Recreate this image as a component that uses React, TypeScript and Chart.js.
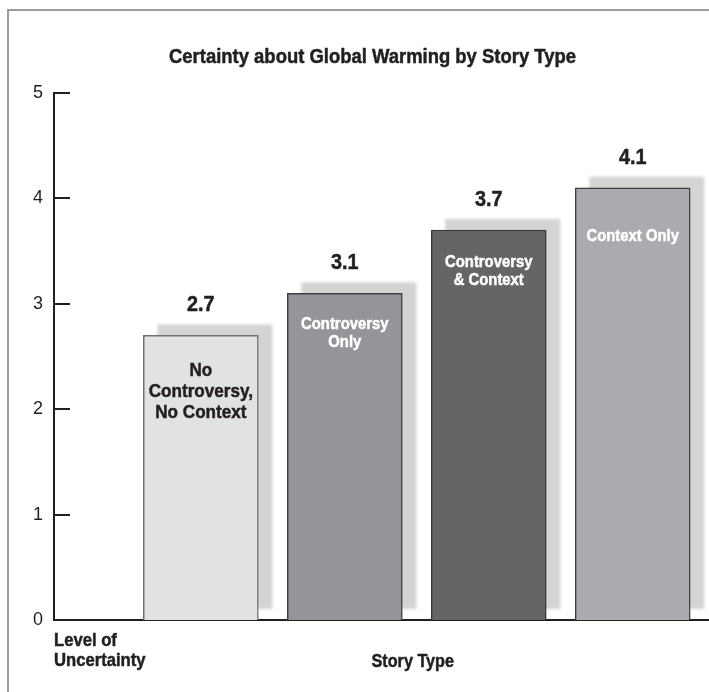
import React, { useEffect, useRef } from 'react';
import { Chart, registerables } from 'chart.js';

Chart.register(...registerables);

// ---- data ----
const categoryNames = ['No Controversy, No Context', 'Controversy Only', 'Controversy & Context', 'Context Only'];
const categoryLines = [['No', 'Controversy,', 'No Context'], ['Controversy', 'Only'], ['Controversy', '& Context'], ['Context Only']];
const values = [2.7, 3.1, 3.7, 4.1];
const valueLabels = ['2.7', '3.1', '3.7', '4.1'];
const yTicks = [0, 1, 2, 3, 4, 5];
const titleText = 'Certainty about Global Warming by Story Type';
const xAxisTitle = 'Story Type';
const yAxisTitle = ['Level of', 'Uncertainty'];

// ---- styles ----
const FONT = "'Liberation Sans', Arial, sans-serif";
const SX = 0.9; // horizontal condensing of bold text
const INK = '#231f20';
const barColors = ['#e1e2e4', '#939598', '#646567', '#aaabae'];
const barBorders = ['#707172', '#3e3e40', '#3a3a3c', '#3e3e40'];
const labelColors = [INK, '#ffffff', '#ffffff', '#ffffff'];
const labelFontSizes = [19, 16.5, 16.5, 16.5];
const labelLineHeights = [21, 18, 18, 18];
const labelTopGaps = [35, 31, 32, 49];

function drawText(ctx: CanvasRenderingContext2D, text: string, x: number, y: number, size: number, align: CanvasTextAlign, color: string) {
  ctx.save();
  ctx.font = `bold ${size}px ${FONT}`;
  ctx.fillStyle = color;
  ctx.strokeStyle = color;
  ctx.lineWidth = 0.5;
  ctx.lineJoin = 'round';
  ctx.textBaseline = 'middle';
  ctx.textAlign = align;
  ctx.translate(x, y);
  ctx.scale(SX, 1);
  ctx.fillText(text, 0, 0);
  ctx.strokeText(text, 0, 0);
  ctx.restore();
}

const decorPlugin = {
  id: 'decor',
  beforeDatasetsDraw(chart: any) {
    const ctx = chart.ctx;
    const meta = chart.getDatasetMeta(0);
    ctx.save();
    ctx.fillStyle = '#d4d4d5';
    ctx.filter = 'blur(1.5px)';
    meta.data.forEach((bar: any) => {
      const p = bar.getProps(['x', 'y', 'base', 'width'], true);
      ctx.fillRect(p.x - p.width / 2 + 14, p.y - 11, p.width, p.base - p.y);
    });
    ctx.restore();
  },
  afterDatasetsDraw(chart: any) {
    const ctx = chart.ctx;
    const meta = chart.getDatasetMeta(0);
    meta.data.forEach((bar: any, i: number) => {
      const p = bar.getProps(['x', 'y'], true);
      drawText(ctx, valueLabels[i], p.x, p.y - 30, 22, 'center', INK);
      categoryLines[i].forEach((line, j) => {
        drawText(ctx, line, p.x, p.y + labelTopGaps[i] + j * labelLineHeights[i], labelFontSizes[i], 'center', labelColors[i]);
      });
    });
  },
  afterDraw(chart: any) {
    const ctx = chart.ctx;
    const area = chart.chartArea;
    const yScale = chart.scales.y;
    const xScale = chart.scales.x;
    ctx.save();
    // inner tick marks
    ctx.strokeStyle = INK;
    ctx.lineWidth = 2;
    yTicks.forEach((v) => {
      if (v === 0) return;
      const y = Math.round(yScale.getPixelForValue(v));
      ctx.beginPath();
      ctx.moveTo(area.left, y);
      ctx.lineTo(area.left + 16, y);
      ctx.stroke();
    });
    ctx.restore();
    // title
    drawText(ctx, titleText, 372.5, area.top - 35.5, 20.5, 'center', INK);
    // bottom labels
    yAxisTitle.forEach((line, j) => {
      drawText(ctx, line, area.left, area.bottom + 21 + j * 20, 18.5, 'left', INK);
    });
    const cx = (xScale.getPixelForValue(1) + xScale.getPixelForValue(values.length)) / 2 - 4;
    drawText(ctx, xAxisTitle, cx, area.bottom + 42, 18, 'center', INK);
  },
};

export default function App() {
  const canvasRef = useRef<HTMLCanvasElement | null>(null);

  useEffect(() => {
    if (!canvasRef.current) return;
    const chart = new Chart(canvasRef.current, {
      type: 'bar',
      data: {
        labels: categoryNames,
        datasets: [
          {
            label: 'Certainty',
            data: values.map((v, i) => ({ x: i + 1, y: v })) as any,
            backgroundColor: barColors,
            borderColor: barBorders,
            borderWidth: 1.5,
            borderSkipped: 'start',
            barThickness: 115,
          },
        ],
      },
      options: {
        responsive: false,
        animation: false,
        devicePixelRatio: 1,
        layout: { padding: { left: 0, right: 0, top: 93, bottom: 0 } },
        plugins: {
          legend: { display: false },
          tooltip: { enabled: false },
          title: { display: false },
        },
        scales: {
          x: {
            type: 'linear',
            min: -0.02,
            max: 4.53,
            offset: false,
            ticks: { display: false },
            grid: { display: false, drawTicks: false },
            border: { display: true, color: INK, width: 2 },
            afterFit: (scale: any) => {
              scale.height = 72;
            },
          },
          y: {
            type: 'linear',
            min: 0,
            max: 5,
            afterBuildTicks: (scale: any) => {
              scale.ticks = yTicks.map((v) => ({ value: v }));
            },
            ticks: {
              color: INK,
              padding: 11,
              font: { family: FONT, size: 18 },
            },
            grid: { display: false, drawTicks: false },
            border: { display: true, color: INK, width: 2 },
            afterFit: (scale: any) => {
              scale.width = 54;
            },
          },
        },
      } as any,
      plugins: [decorPlugin],
    });
    return () => chart.destroy();
  }, []);

  return (
    <div style={{ position: 'absolute', left: 0, top: 0, width: 709, height: 692, background: '#ffffff' }}>
      <div
        style={{
          position: 'absolute',
          left: 7,
          top: 9,
          width: 702,
          height: 683,
          borderTop: '2px solid #9b9b9b',
          borderLeft: '2px solid #9b9b9b',
          boxSizing: 'border-box',
        }}
      />
      <canvas
        ref={canvasRef}
        width={709}
        height={692}
        style={{ position: 'absolute', left: 0, top: 0, display: 'block' }}
      />
    </div>
  );
}
